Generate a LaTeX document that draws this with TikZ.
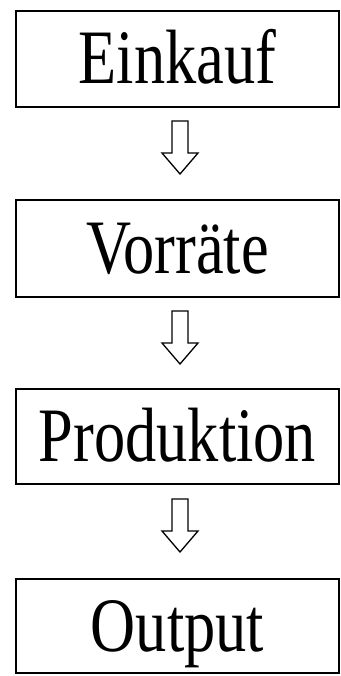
\documentclass[tikz,border=0pt]{standalone}
\usepackage{fontspec}
\setmainfont{Liberation Serif}
\newfontfamily\boxfont[FakeStretch=0.81]{Liberation Serif}
\usetikzlibrary{calc}
\begin{document}
\begin{tikzpicture}[x=1pt,y=-1pt,
  stepbox/.style={draw, line width=2pt, minimum width=323pt, minimum height=96pt,
    inner sep=0pt, font=\boxfont\fontsize{77}{77}\selectfont,
    text height=50pt, text depth=0pt},
  hollow/.pic={\draw[line width=1.3pt, line join=miter, fill=white]
    (-8,0) -- (8,0) -- (8,32) -- (18,32) -- (0,53) -- (-18,32) -- (-8,32) -- cycle;}]
\useasboundingbox (0,0) rectangle (340,676);
\node[stepbox] (a) at (177.5,59) {Einkauf};
\node[stepbox, minimum height=97pt] (b) at (177.5,248.5) {Vorräte};
\node[stepbox, minimum height=95pt] (c) at (177.5,436.5) {Produktion};
\node[stepbox, minimum height=94pt] (d) at (177.5,626) {Output};
\path ($(a.south)+(2.5,13)$) pic {hollow};
\path ($(b.south)+(2.5,13)$) pic {hollow};
\path ($(c.south)+(2.5,14)$) pic {hollow};
\end{tikzpicture}
\end{document}
